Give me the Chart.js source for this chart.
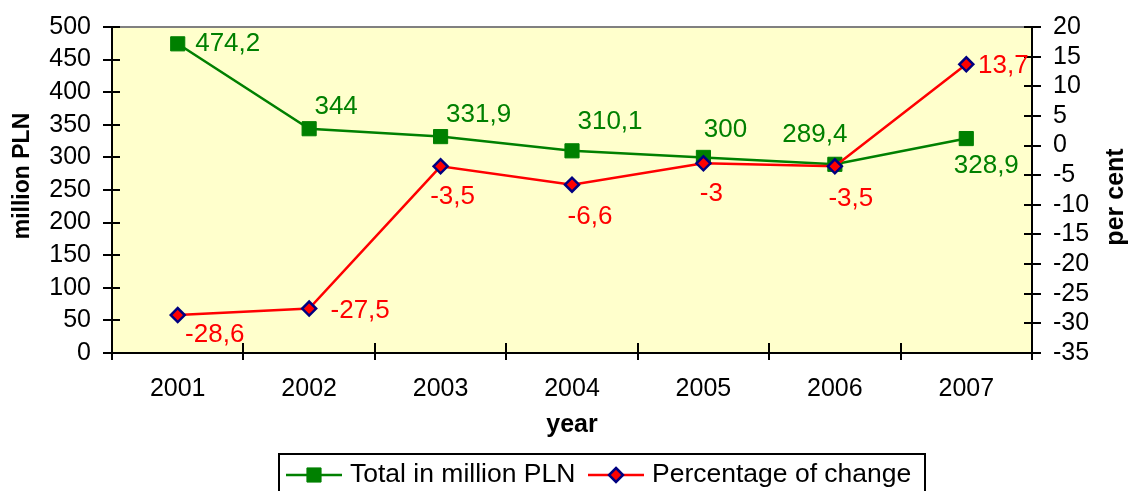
<!DOCTYPE html>
<html><head><meta charset="utf-8">
<script src="https://cdn.jsdelivr.net/npm/chart.js@4.4.0/dist/chart.umd.min.js"></script>
<style>html,body{margin:0;padding:0;background:#fff;overflow:hidden}</style>
</head><body>
<canvas id="c" width="1129" height="491" style="display:block;width:1129px;height:491px"></canvas>
<script>
// ---- data ----
const years = ['2001', '2002', '2003', '2004', '2005', '2006', '2007'];
const totalPLN = [474.2, 344, 331.9, 310.1, 300, 289.4, 328.9];
const pctChange = [-28.6, -27.5, -3.5, -6.6, -3, -3.5, 13.7];
const leftAxis = { min: 0, max: 500, step: 50 };
const rightAxis = { min: -35, max: 20, step: 5 };
const seriesNames = ['Total in million PLN', 'Percentage of change'];
const axisTitles = { x: 'year', left: 'million PLN', right: 'per cent' };

// ---- label placement (style only) ----
const totalLabelOffsets = [[50, 0], [27, -22], [38, -22], [38, -29], [22, -28], [-20, -29], [20, 27]];
const pctLabelOffsets = [[37, 20], [51, 2], [12, 31], [18, 32], [8, 31], [16, 33], [37, 1]];

const F = '"Liberation Sans", Arial, sans-serif';
const fmt = v => String(v).replace('.', ',');

const bgPlugin = {
  id: 'bg',
  beforeDraw(chart) {
    const { ctx, chartArea: a } = chart;
    ctx.save();
    ctx.fillStyle = '#FFFFCC';
    ctx.fillRect(a.left, a.top, a.right - a.left, a.bottom - a.top);
    ctx.strokeStyle = '#808080';
    ctx.lineWidth = 2;
    ctx.beginPath();
    ctx.moveTo(a.left, a.top);
    ctx.lineTo(a.right, a.top);
    ctx.stroke();
    ctx.restore();
  },
  beforeDatasetsDraw(chart) {
    // inner halves of the crossing tick marks
    const { ctx, chartArea: a, scales } = chart;
    ctx.save();
    ctx.strokeStyle = '#000';
    ctx.lineWidth = 2;
    ctx.beginPath();
    scales.y.ticks.forEach(t => {
      const py = Math.round(scales.y.getPixelForValue(t.value));
      ctx.moveTo(a.left, py); ctx.lineTo(a.left + 8, py);
    });
    scales.y1.ticks.forEach(t => {
      const py = Math.round(scales.y1.getPixelForValue(t.value));
      ctx.moveTo(a.right, py); ctx.lineTo(a.right - 8, py);
    });
    const n = years.length;
    for (let i = 0; i <= n; i++) {
      const px = Math.round(scales.x.getPixelForValue(i - 0.5));
      ctx.moveTo(px, a.bottom); ctx.lineTo(px, a.bottom - 10);
    }
    ctx.stroke();
    ctx.restore();
  },
  afterDatasetsDraw(chart) {
    const { ctx } = chart;
    ctx.save();
    ctx.font = '26px ' + F;
    ctx.textAlign = 'center';
    ctx.textBaseline = 'middle';
    const sets = [[0, totalPLN, totalLabelOffsets, '#008000'], [1, pctChange, pctLabelOffsets, '#FF0000']];
    sets.forEach(([di, vals, offs, col]) => {
      const meta = chart.getDatasetMeta(di);
      ctx.fillStyle = col;
      meta.data.forEach((pt, i) => {
        ctx.fillText(fmt(vals[i]), pt.x + offs[i][0], pt.y + offs[i][1]);
      });
    });
    ctx.restore();
  },
  afterDraw(chart) {
    const { ctx } = chart;
    ctx.save();
    // axis titles (vertical, reading bottom to top)
    ctx.fillStyle = '#000';
    ctx.textAlign = 'center';
    ctx.textBaseline = 'middle';
    ctx.font = 'bold 23px ' + F;
    ctx.save(); ctx.translate(23, 176); ctx.rotate(-Math.PI / 2); ctx.fillText(axisTitles.left, 0, 0); ctx.restore();
    ctx.font = 'bold 25px ' + F;
    ctx.save(); ctx.translate(1116, 197); ctx.rotate(-Math.PI / 2); ctx.fillText(axisTitles.right, 0, 0); ctx.restore();

    // legend box
    ctx.strokeStyle = '#000';
    ctx.lineWidth = 2;
    ctx.strokeRect(279, 454, 646, 60);
    const ly = 475;
    const items = [
      { ds: 0, x0: 286, x1: 342, tx: 350 },
      { ds: 1, x0: 588, x1: 644, tx: 652 }
    ];
    items.forEach(it => {
      const d = chart.data.datasets[it.ds];
      ctx.strokeStyle = d.borderColor;
      ctx.lineWidth = d.borderWidth;
      ctx.beginPath(); ctx.moveTo(it.x0, ly); ctx.lineTo(it.x1, ly); ctx.stroke();
      const cx = (it.x0 + it.x1) / 2;
      ctx.fillStyle = d.pointBackgroundColor;
      ctx.strokeStyle = d.pointBorderColor;
      ctx.lineWidth = d.pointBorderWidth;
      ctx.beginPath();
      if (d.pointStyle === 'rect') {
        const s = Math.SQRT1_2 * d.pointRadius;
        ctx.rect(cx - s, ly - s, 2 * s, 2 * s);
      } else {
        const r = d.pointRadius;
        ctx.moveTo(cx, ly - r); ctx.lineTo(cx + r, ly); ctx.lineTo(cx, ly + r); ctx.lineTo(cx - r, ly); ctx.closePath();
      }
      ctx.fill(); ctx.stroke();
      ctx.fillStyle = '#000';
      ctx.font = '26.5px ' + F;
      ctx.textAlign = 'left';
      ctx.textBaseline = 'middle';
      ctx.fillText(seriesNames[it.ds], it.tx, ly);
    });
    ctx.restore();
  }
};

const tickFont = { family: F, size: 25 };

new Chart(document.getElementById('c'), {
  type: 'line',
  data: {
    labels: years,
    datasets: [
      {
        label: seriesNames[0], data: totalPLN, yAxisID: 'y', order: 1,
        borderColor: '#008000', borderWidth: 2.5, tension: 0,
        pointStyle: 'rect', pointRadius: 10, pointBackgroundColor: '#008000',
        pointBorderColor: '#008000', pointBorderWidth: 1
      },
      {
        label: seriesNames[1], data: pctChange, yAxisID: 'y1', order: 0,
        borderColor: '#FF0000', borderWidth: 2.5, tension: 0,
        pointStyle: 'rectRot', pointRadius: 7, pointBackgroundColor: '#FF0000',
        pointBorderColor: '#000080', pointBorderWidth: 2.5
      }
    ]
  },
  options: {
    responsive: false,
    animation: false,
    events: [],
    layout: { padding: { top: 25, left: 0, right: 0, bottom: 43 } },
    plugins: { legend: { display: false }, tooltip: { enabled: false } },
    scales: {
      x: {
        type: 'category', offset: true,
        grid: { offset: true, drawOnChartArea: false, drawTicks: true, tickLength: 7, color: '#000', lineWidth: 2 },
        border: { color: '#000', width: 2 },
        ticks: { color: '#000', font: tickFont, padding: 14, maxRotation: 0, autoSkip: false },
        title: { display: true, text: axisTitles.x, color: '#000', font: { family: F, size: 25, weight: 'bold' }, padding: { top: 0, bottom: 8 } },
        afterFit(s) { s.height = 95; }
      },
      y: {
        position: 'left', min: leftAxis.min, max: leftAxis.max,
        grid: { drawOnChartArea: false, drawTicks: true, tickLength: 9, color: '#000', lineWidth: 2 },
        border: { color: '#000', width: 2 },
        ticks: { stepSize: leftAxis.step, color: '#000', font: tickFont, padding: 12, autoSkip: false },
        afterFit(s) { s.width = 112; }
      },
      y1: {
        position: 'right', min: rightAxis.min, max: rightAxis.max,
        grid: { drawOnChartArea: false, drawTicks: true, tickLength: 9, color: '#000', lineWidth: 2 },
        border: { color: '#000', width: 2 },
        ticks: { stepSize: rightAxis.step, color: '#000', font: tickFont, padding: 12, autoSkip: false },
        afterFit(s) { s.width = 97; }
      }
    }
  },
  plugins: [bgPlugin]
});
</script>
</body></html>
